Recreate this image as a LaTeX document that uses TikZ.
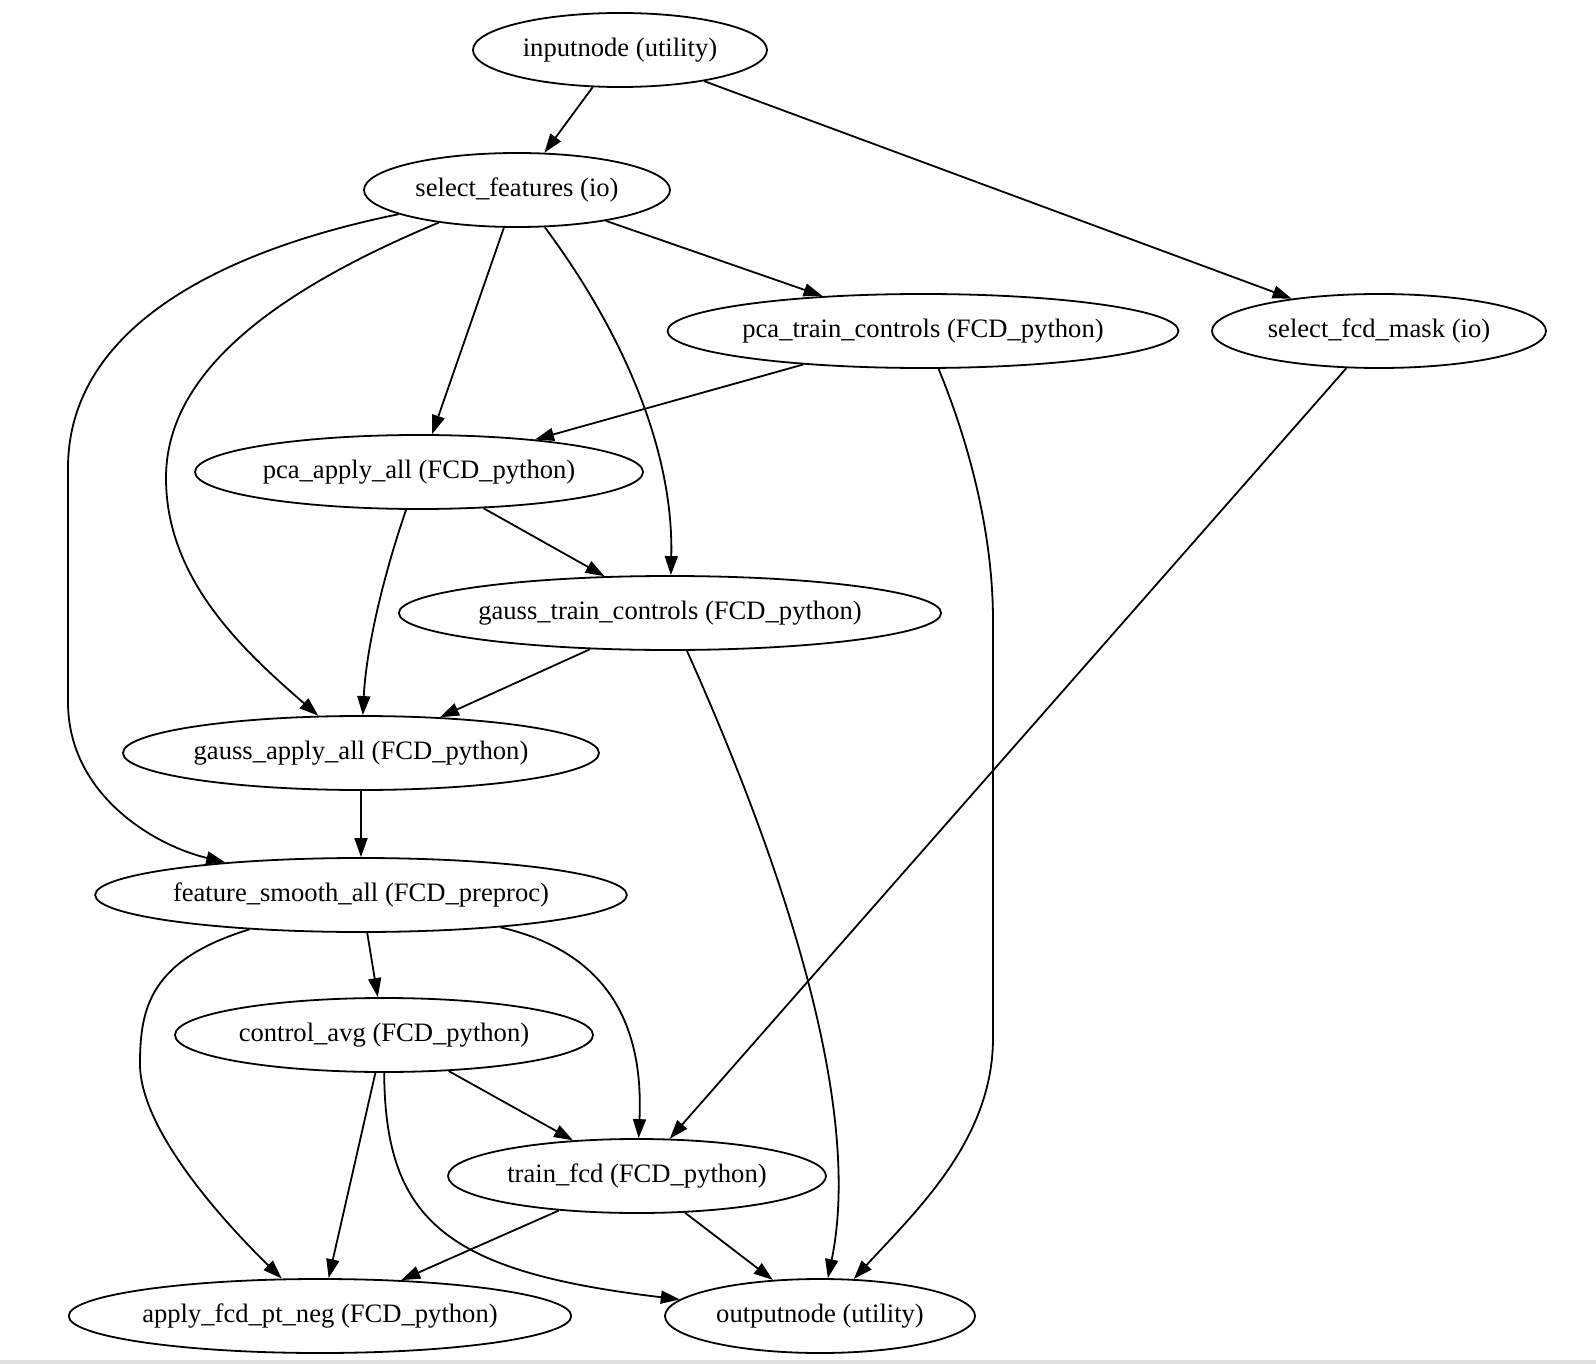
\documentclass[tikz,border=0pt]{standalone}
\usepackage{fontspec}
\setmainfont{Liberation Serif}
\usetikzlibrary{arrows.meta, shapes.geometric}

\begin{document}
\begin{tikzpicture}[
    x=0.5pt, y=-0.5pt,
    >={Triangle[length=9.5pt, width=6.5pt]},
    % --- estilos del grafo ---
    proc/.style={draw, ellipse, line width=0.9pt, inner sep=0pt,
                 minimum height=37pt, font=\fontsize{13.3}{16}\selectfont},
    edge/.style={->, line width=0.9pt}
]
\useasboundingbox (0,0) rectangle (1596,1364);
\fill[gray!25] (0,1360) rectangle (1596,1364);

% ====== Nodos ======
\node[proc, minimum width=147pt] (inputnode) at (620,50) {inputnode (utility)};
\node[proc, minimum width=153pt] (selfeat) at (517,190) {select\_features (io)};
\node[proc, minimum width=254pt] (pcatrain) at (923,331) {pca\_train\_controls (FCD\_python)};
\node[proc, minimum width=167pt] (selmask) at (1379,331) {select\_fcd\_mask (io)};
\node[proc, minimum width=224pt] (pcaapply) at (419,472) {pca\_apply\_all (FCD\_python)};
\node[proc, minimum width=268pt] (gausstrain) at (670,613) {gauss\_train\_controls (FCD\_python)};
\node[proc, minimum width=238pt] (gaussapply) at (361,753) {gauss\_apply\_all (FCD\_python)};
\node[proc, minimum width=265pt] (smooth) at (361,895) {feature\_smooth\_all (FCD\_preproc)};
\node[proc, minimum width=209pt] (ctrlavg) at (384,1035) {control\_avg (FCD\_python)};
\node[proc, minimum width=189pt] (trainfcd) at (637,1176) {train\_fcd (FCD\_python)};
\node[proc, minimum width=250pt] (applyneg) at (320,1316) {apply\_fcd\_pt\_neg (FCD\_python)};
\node[proc, minimum width=155pt] (outputnode) at (820,1316) {outputnode (utility)};

% ====== Conexiones rectas ======
\draw[edge] (inputnode) -- (selfeat);
\draw[edge] (inputnode) -- (selmask);
\draw[edge] (selfeat) -- (pcatrain);
\draw[edge] (selfeat) -- (pcaapply);
\draw[edge] (pcatrain) -- (pcaapply);
\draw[edge] (selmask) -- (trainfcd);
\draw[edge] (pcaapply) -- (gausstrain);
\draw[edge] (gausstrain) -- (gaussapply);
\draw[edge] (gaussapply) -- (smooth);
\draw[edge] (smooth) -- (ctrlavg);
\draw[edge] (ctrlavg) -- (trainfcd);
\draw[edge] (ctrlavg) -- (applyneg);
\draw[edge] (trainfcd) -- (applyneg);
\draw[edge] (trainfcd) -- (outputnode);

% ====== Conexiones curvas ======
\draw[edge] (selfeat) .. controls (611,316) and (674,438) .. (gausstrain);
\draw[edge] (selfeat) .. controls (265,295) and (166,377) .. (166,478)
    .. controls (166,580) and (244,651) .. (gaussapply);
\draw[edge] (selfeat) .. controls (204,254) and (68,336) .. (68,468) -- (68,702)
    .. controls (68,794) and (153,845) .. (smooth);
\draw[edge] (pcatrain) .. controls (967,438) and (993,529) .. (993,621) -- (993,1038)
    .. controls (993,1140) and (916,1211) .. (outputnode);
\draw[edge] (pcaapply) .. controls (382,580) and (366,651) .. (gaussapply);
\draw[edge] (gausstrain) .. controls (774,845) and (865,1099) .. (outputnode);
\draw[edge] (smooth) .. controls (150,960) and (140,1008) .. (140,1064)
    .. controls (140,1130) and (224,1222) .. (applyneg);
\draw[edge] (smooth) .. controls (620,955) and (643,1040) .. (trainfcd);
\draw[edge] (ctrlavg) .. controls (385,1222) and (448,1272) .. (outputnode);

\end{tikzpicture}
\end{document}
